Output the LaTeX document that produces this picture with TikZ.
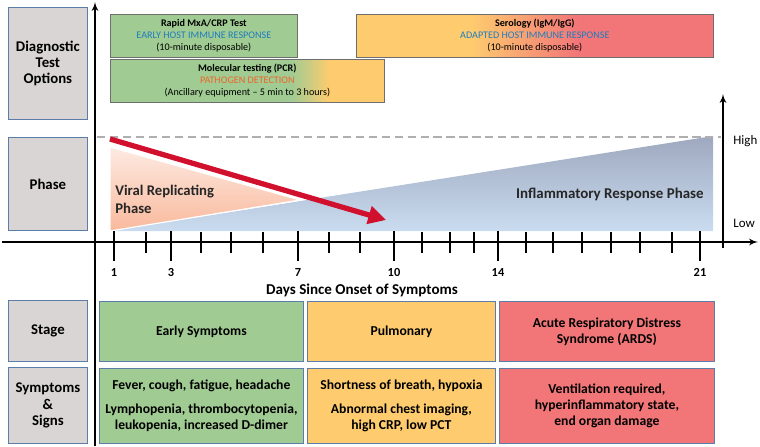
\documentclass[tikz,border=0pt]{standalone}
\usepackage{fontspec}
\setmainfont{Carlito}
\usetikzlibrary{arrows, arrows.meta, positioning}

\definecolor{labelgray}{RGB}{217,213,213}
\definecolor{edgeblue}{RGB}{90,125,170}
\definecolor{edgegray}{RGB}{110,110,110}
\definecolor{boxgreen}{RGB}{160,203,146}
\definecolor{boxorange}{RGB}{254,204,110}
\definecolor{boxred}{RGB}{242,118,120}
\definecolor{hostblue}{RGB}{30,125,190}
\definecolor{pathorange}{RGB}{240,100,40}
\definecolor{arrowred}{RGB}{208,16,44}
\definecolor{dashgray}{RGB}{175,175,175}
\definecolor{pinktop}{RGB}{253,234,226}
\definecolor{pinkbot}{RGB}{249,185,156}
\definecolor{bluetop}{RGB}{158,168,190}
\definecolor{bluebot}{RGB}{202,220,240}

\pgfdeclarehorizontalshading{molfade}{100bp}{color(0bp)=(boxgreen); color(58bp)=(boxgreen); color(65bp)=(boxorange); color(100bp)=(boxorange)}
\pgfdeclarehorizontalshading{serofade}{100bp}{color(0bp)=(boxorange); color(41bp)=(boxorange); color(56bp)=(boxred); color(100bp)=(boxred)}

\def\pxu{0.85pt}

\begin{document}
\begin{tikzpicture}[x=0.85pt, y=-0.85pt, >=latex', thick]
        \tikzstyle{rowlabel} = [draw=edgeblue, fill=labelgray, line width=0.7pt, anchor=north west, inner sep=0pt, align=center, font=\bfseries\fontsize{12.6}{13.8}\selectfont, minimum width=79*\pxu]
        \tikzstyle{testbox} = [draw=edgegray, line width=0.6pt, anchor=north west, inner sep=0pt, align=center, font=\fontsize{8.6}{10.2}\selectfont, minimum height=43*\pxu]
        \tikzstyle{stagebox} = [draw=edgeblue, line width=0.7pt, anchor=north west, inner sep=0pt, align=center, font=\bfseries\fontsize{11.6}{13.6}\selectfont]
        \tikzstyle{axis} = [line width=1.6pt]
        \tikzstyle{ticklabel} = [font=\bfseries\fontsize{10.5}{12}\selectfont]

        \useasboundingbox (0,0) rectangle (760,446);

        % Spalte links
        \node [rowlabel, minimum height=112*\pxu] (diag) at (8,7) {Diagnostic\\Test\\Options};
        \node [rowlabel, minimum height=93*\pxu] (phase) at (8,137) {Phase};
        \node [rowlabel, minimum height=61*\pxu] (stage) at (8,300) {Stage};
        \node [rowlabel, minimum height=76*\pxu] (signs) at (8,367) {Symptoms\\\&\\Signs};

        % Testverfahren
        \node [testbox, fill=boxgreen, minimum width=187*\pxu] (rapid) at (110,14) {\textbf{Rapid MxA/CRP Test}\\\textcolor{hostblue}{EARLY HOST IMMUNE RESPONSE}\\(10-minute disposable)};
        \node [testbox, shade, shading=molfade, minimum width=274*\pxu] (pcr) at (110,59) {\textbf{Molecular testing (PCR)}\\\textcolor{pathorange}{PATHOGEN DETECTION}\\(Ancillary equipment -- 5 min to 3 hours)};
        \node [testbox, shade, shading=serofade, minimum width=357*\pxu] (sero) at (356,14) {\textbf{Serology (IgM/IgG)}\\\textcolor{hostblue}{ADAPTED HOST IMMUNE RESPONSE}\\(10-minute disposable)};

        % Phasen
        \shade [top color=bluetop, bottom color=bluebot] (110,231) -- (713,136) -- (713,231) -- cycle;
        \shade [top color=pinktop, bottom color=pinkbot, draw=white, line width=1pt] (110,147) -- (300,200) -- (110,231) -- cycle;
        \draw [dashgray, line width=1.3pt, dash pattern=on 7pt off 4pt] (97,137) -- (721,137);
        \coordinate (virstart) at (110,139);
        \coordinate (virend) at (386,220);
        \draw [arrowred, line width=4.5pt, -{Triangle[length=15pt, width=15pt]}] (virstart) -- (virend);
        \node [anchor=west, align=left, font=\bfseries\fontsize{12.5}{15.5}\selectfont, text=black!85] (viral) at (111,199) {Viral Replicating\\Phase};
        \node [anchor=east, font=\bfseries\fontsize{12.7}{15.5}\selectfont, text=black!85] (infl) at (708,194) {Inflammatory Response Phase};
        \node [anchor=west, font=\fontsize{11}{13}\selectfont] (high) at (729,141) {High};
        \node [anchor=west, font=\fontsize{11}{13}\selectfont] (low) at (729,223) {Low};

        % Achsen
        \coordinate (ybot) at (95,446);
        \coordinate (ytop) at (95,2);
        \coordinate (xleft) at (2,242);
        \coordinate (xright) at (758,242);
        \coordinate (rbot) at (723,248);
        \coordinate (rtop) at (723,94);
        \draw [axis, ->] (ybot) -- (ytop);
        \draw [axis, ->] (xleft) -- (xright);
        \draw [axis, ->] (rbot) -- (rtop);

        % Tage
        \foreach \x in {146,201,231,263,329,360,422,450,474,526,553,582,611,640,672}
            \draw [line width=1.2pt] (\x,232) -- (\x,253);
        \foreach \x/\d in {114/1,171/3,298/7,394/10,498/14,700/21} {
            \draw [line width=1.6pt] (\x,231) -- (\x,261);
            \node [ticklabel] (day\d) at (\x,272) {\d};
        }
        \node [font=\bfseries\fontsize{12.8}{14}\selectfont] (days) at (362,290) {Days Since Onset of Symptoms};

        % Stadien
        \node [stagebox, fill=boxgreen, minimum width=204*\pxu, minimum height=60*\pxu] (early) at (99,301) {Early Symptoms};
        \node [stagebox, fill=boxorange, minimum width=188*\pxu, minimum height=60*\pxu] (pulm) at (307,301) {Pulmonary};
        \node [stagebox, fill=boxred, minimum width=215*\pxu, minimum height=60*\pxu] (ards) at (499,301) {Acute Respiratory Distress\\Syndrome (ARDS)};

        % Symptome
        \node [stagebox, fill=boxgreen, minimum width=204*\pxu, minimum height=75*\pxu] (earlysym) at (99,368) {Fever, cough, fatigue, headache\\[7pt]Lymphopenia, thrombocytopenia,\\leukopenia, increased D-dimer};
        \node [stagebox, fill=boxorange, minimum width=188*\pxu, minimum height=75*\pxu] (pulmsym) at (307,368) {Shortness of breath, hypoxia\\[7pt]Abnormal chest imaging,\\high CRP, low PCT};
        \node [stagebox, fill=boxred, minimum width=215*\pxu, minimum height=75*\pxu] (ardssym) at (499,368) {Ventilation required,\\hyperinflammatory state,\\end organ damage};

\end{tikzpicture}
\end{document}
